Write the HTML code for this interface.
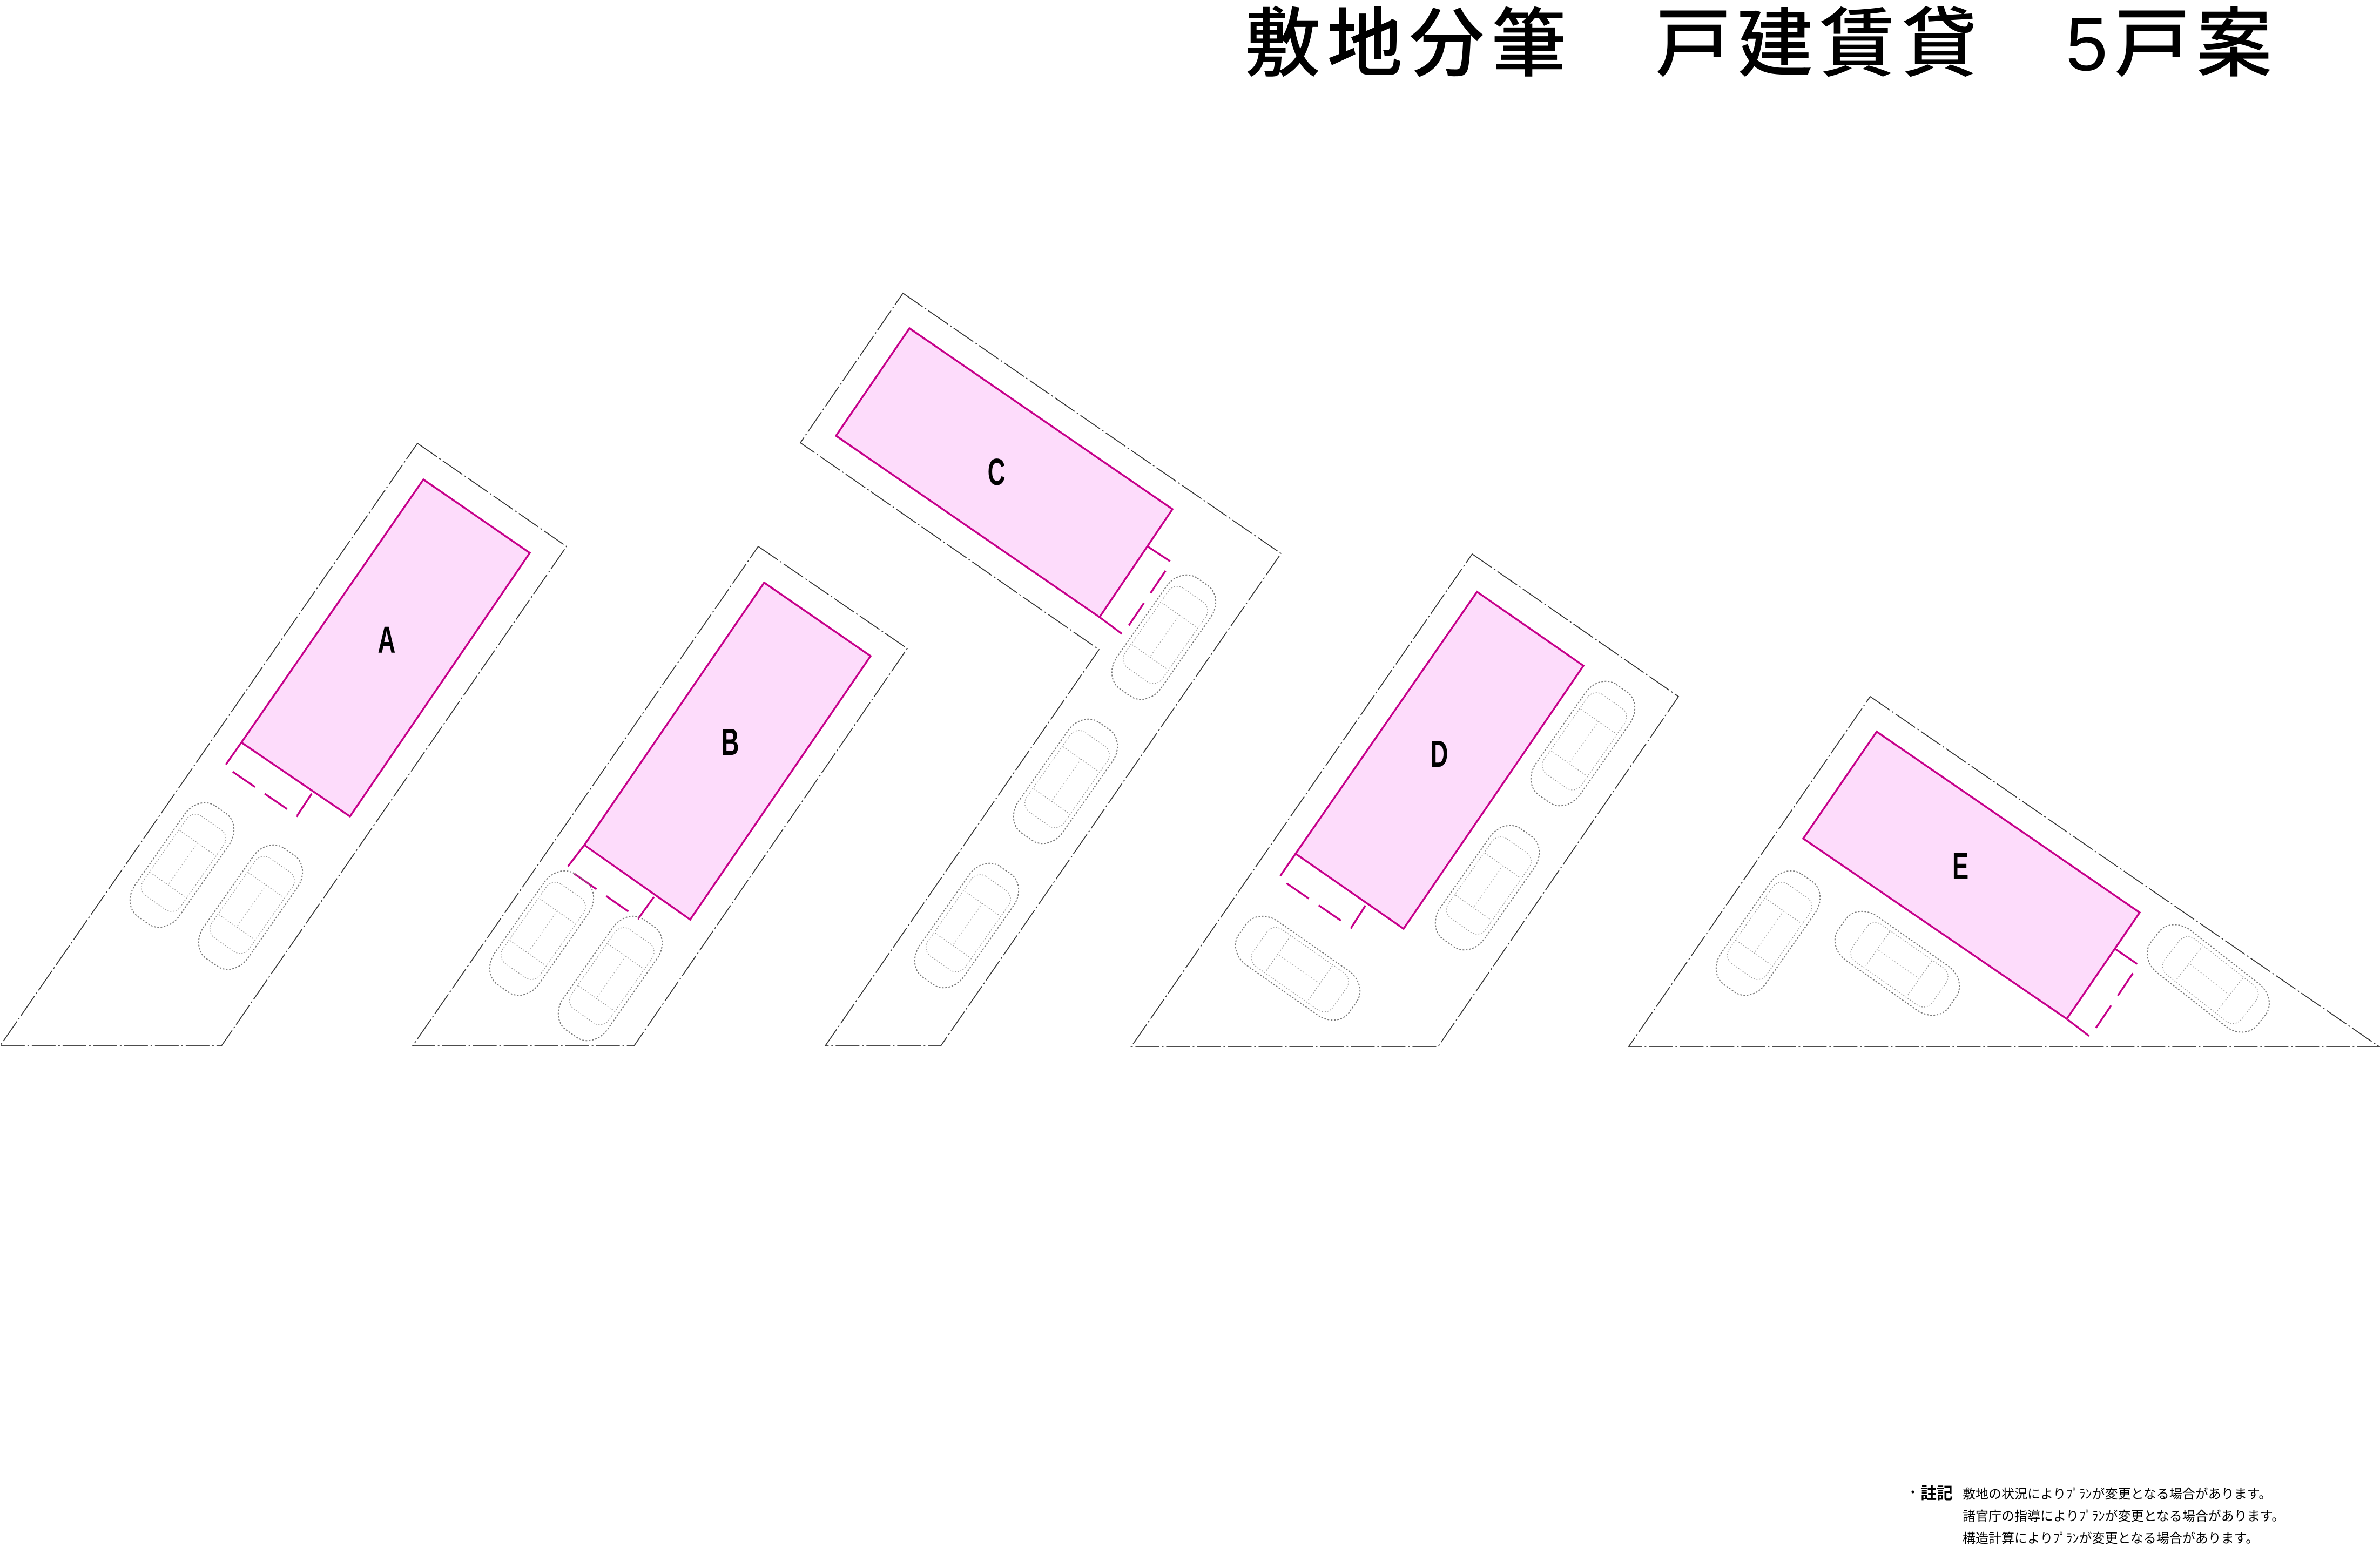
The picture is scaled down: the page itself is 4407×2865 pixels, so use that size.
<!DOCTYPE html>
<html><head><meta charset="utf-8"><style>
html,body{margin:0;padding:0;background:#fff;}
svg{display:block}
</style></head><body>
<svg width="4407" height="2865" viewBox="0 0 4407 2865" xmlns="http://www.w3.org/2000/svg">
<defs>
<g id="car">
<rect x="-50" y="-125" width="100" height="250" rx="38" ry="45" fill="none" stroke="#777" stroke-width="2" stroke-dasharray="3 3"/>
<rect x="-42" y="-95" width="84" height="180" rx="20" fill="none" stroke="#999" stroke-width="1.5" stroke-dasharray="2 3"/>
<line x1="-40" y1="-50" x2="40" y2="-50" stroke="#999" stroke-width="1.5" stroke-dasharray="2 3"/>
<line x1="-40" y1="45" x2="40" y2="45" stroke="#999" stroke-width="1.5" stroke-dasharray="2 3"/>
<line x1="0" y1="-50" x2="0" y2="45" stroke="#aaa" stroke-width="1.5" stroke-dasharray="2 4"/>
</g>
</defs>
<g fill="none" stroke="#333" stroke-width="1.8" stroke-dasharray="44 5 3 5">
<polygon points="773,821 1049,1012 410,1937 0,1937"/>
<polygon points="1404,1012 1680,1201 1174,1937 764,1937"/>
<polygon points="1672,543 2372,1025 1742,1937 1528,1937 2035,1203 1482,820"/>
<polygon points="2726,1026 3108,1290 2663,1938 2095,1938"/>
<polygon points="3463,1290 4405,1938 3016,1938"/>
</g>
<g fill="#fddcfb" stroke="#c6008a" stroke-width="3.5">
<polygon points="784,888 981,1024 648,1512 447,1375"/>
<polygon points="1415,1079 1612,1215 1278,1703 1082,1565"/>
<polygon points="1684,608 2171,943 2036,1143 1548,807"/>
<polygon points="2735,1096 2932,1233 2599,1720 2399,1581"/>
<polygon points="3475,1355 3962,1690 3827,1887 3339,1553"/>
</g>
<g fill="none" stroke="#c6008a" stroke-width="3.5" stroke-dasharray="50 22">
<polyline points="447,1375 416,1419 550,1511 579,1467"/>
<polyline points="1082,1565 1049,1608 1182,1701 1213,1658"/>
<polyline points="2125,1012 2169,1041 2079,1175 2036,1143"/>
<polyline points="2399,1581 2368,1626 2502,1718 2531,1673"/>
<polyline points="3916,1757 3960,1787 3870,1920 3827,1887"/>
</g>
<use href="#car" transform="translate(337,1602) rotate(35)"/>
<use href="#car" transform="translate(464,1680) rotate(35)"/>
<use href="#car" transform="translate(1003,1728) rotate(35)"/>
<use href="#car" transform="translate(1130,1812) rotate(35)"/>
<use href="#car" transform="translate(2155,1180) rotate(35)"/>
<use href="#car" transform="translate(1973,1447) rotate(35)"/>
<use href="#car" transform="translate(1790,1714) rotate(35)"/>
<use href="#car" transform="translate(2931,1377) rotate(35)"/>
<use href="#car" transform="translate(2754,1644) rotate(35)"/>
<use href="#car" transform="translate(2403,1793) rotate(125)"/>
<use href="#car" transform="translate(3274,1728) rotate(35)"/>
<use href="#car" transform="translate(3513,1784) rotate(125)"/>
<use href="#car" transform="translate(4089,1812) rotate(128)"/>
<g font-family="Liberation Sans, sans-serif" font-size="70" font-weight="bold" fill="#000" text-anchor="middle">
<text x="716" y="1209" transform="translate(716 0) scale(0.65 1) translate(-716 0)">A</text>
<text x="1352" y="1398" transform="translate(1352 0) scale(0.65 1) translate(-1352 0)">B</text>
<text x="1845" y="898" transform="translate(1845 0) scale(0.65 1) translate(-1845 0)">C</text>
<text x="2665" y="1420" transform="translate(2665 0) scale(0.65 1) translate(-2665 0)">D</text>
<text x="3630" y="1628" transform="translate(3630 0) scale(0.65 1) translate(-3630 0)">E</text>
</g>
<text x="2305" y="130" font-family="Liberation Sans, 'Noto Sans CJK JP', sans-serif" font-size="140" font-weight="500" fill="#000" letter-spacing="12">敷地分筆　戸建賃貸　5戸案</text>
<g font-family="Liberation Sans, 'Noto Sans CJK JP', sans-serif" fill="#000">
<text x="3530" y="2772" font-size="24">・</text>
<text x="3556" y="2776" font-size="30" font-weight="bold">註記</text>
<text x="3634" y="2775" font-size="24">敷地の状況によりﾌﾟﾗﾝが変更となる場合があります。</text>
<text x="3634" y="2816" font-size="24">諸官庁の指導によりﾌﾟﾗﾝが変更となる場合があります。</text>
<text x="3634" y="2857" font-size="24">構造計算によりﾌﾟﾗﾝが変更となる場合があります。</text>
</g>
</svg>
</body></html>
